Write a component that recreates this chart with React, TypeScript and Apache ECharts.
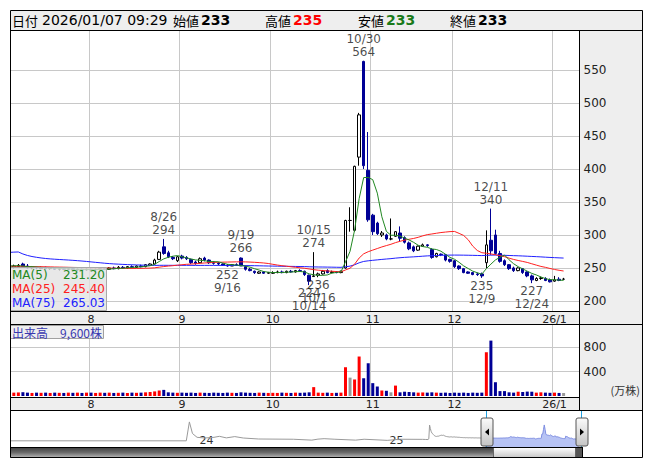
import { useEffect, useRef } from 'react';
import * as echarts from 'echarts';

const FONT = '"DejaVu Sans", "Noto Sans CJK JP", sans-serif';
const JFONT = '"Noto Sans CJK JP", "DejaVu Sans", sans-serif';

// trading days shown in the window
const JUL_2025 = [7, 8, 9, 10, 11, 14, 15, 16, 17, 18, 22, 23, 24, 25, 28, 29, 30, 31];
const AUG_2025 = [1, 4, 5, 6, 7, 8, 12, 13, 14, 15, 18, 19, 20, 21, 22, 25, 26, 27, 28, 29];
const SEP_2025 = [1, 2, 3, 4, 5, 8, 9, 10, 11, 12, 16, 17, 18, 19, 22, 24, 25, 26, 29, 30];
const OCT_2025 = [1, 2, 3, 6, 7, 8, 9, 10, 14, 15, 16, 17, 20, 21, 22, 23, 24, 27, 28, 29, 30, 31];
const NOV_2025 = [4, 5, 6, 7, 10, 11, 12, 13, 14, 17, 18, 19, 20, 21, 25, 26, 27, 28];
const DEC_2025 = [1, 2, 3, 4, 5, 8, 9, 10, 11, 12, 15, 16, 17, 18, 19, 22, 23, 24, 25, 26, 29, 30];
const JAN_2026 = [5, 6, 7];

// x tick labels at month starts
const monthTicks: [string, string][] = [
  ['2025/08/01', '8'], ['2025/09/01', '9'], ['2025/10/01', '10'],
  ['2025/11/04', '11'], ['2025/12/01', '12'], ['2026/01/05', '26/1'],
];

// [open, close, low, high]
const ohlc: number[][] = [
  [256, 251, 250, 258], [251, 253, 249, 255], [252, 254, 251, 256], [256, 252, 251, 258], [253, 250, 249, 256],
  [250, 251, 248, 253], [251, 250, 248, 252], [249, 251, 248, 252], [251, 249, 248, 252], [249, 250, 247, 251],
  [250, 248, 247, 251], [248, 249, 246, 250], [249, 248, 247, 250], [248, 249, 247, 250], [249, 247, 246, 250],
  [247, 248, 246, 249], [248, 247, 246, 249], [247, 248, 246, 249],
  [248, 247, 246, 249], [247, 248, 245, 249], [248, 249, 247, 250], [249, 248, 247, 250], [248, 250, 247, 251],
  [250, 249, 248, 252], [249, 251, 248, 253], [251, 250, 249, 253], [250, 252, 249, 253], [252, 251, 250, 254],
  [251, 253, 250, 254], [253, 252, 251, 255], [252, 255, 251, 256], [254, 256, 253, 257], [256, 262, 255, 264],
  [263, 274, 262, 276], [282, 272, 270, 294], [273, 267, 265, 276], [266, 264, 262, 268], [261, 267, 259, 268],
  [268, 265, 263, 270], [266, 264, 262, 268], [263, 258, 256, 264], [259, 257, 255, 261], [258, 264, 257, 266],
  [265, 262, 260, 267], [262, 258, 256, 263], [259, 257, 255, 260], [257, 256, 254, 259], [256, 254, 253, 257],
  [254, 253, 252, 256], [253, 255, 253, 256], [255, 254, 253, 257], [265, 253, 253, 266], [252, 248, 246, 254],
  [248, 246, 245, 250], [245, 243, 241, 246], [242, 244, 241, 245], [244, 242, 241, 245], [242, 243, 241, 244],
  [242, 243, 241, 245], [243, 244, 242, 246], [244, 243, 242, 246], [243, 245, 242, 246], [245, 244, 243, 247],
  [244, 246, 243, 247], [246, 245, 244, 248], [245, 240, 238, 246], [239, 230, 224, 240], [237, 238, 237, 274],
  [239, 241, 236, 243], [241, 245, 240, 247], [246, 243, 242, 248], [243, 244, 242, 246], [244, 243, 242, 245],
  [243, 245, 242, 246], [250, 322, 249, 323], [322, 322, 305, 342], [307, 404, 305, 405], [418, 482, 405, 485],
  [563, 405, 400, 564], [398, 323, 320, 456],
  [330, 305, 300, 332], [318, 302, 300, 320], [300, 303, 297, 306], [300, 294, 292, 302], [294, 294, 292, 325],
  [298, 305, 297, 306], [303, 295, 290, 313], [296, 289, 287, 298], [288, 279, 277, 290], [282, 276, 274, 284],
  [277, 283, 276, 284], [283, 285, 282, 287], [285, 284, 282, 286], [278, 266, 264, 280], [267, 272, 266, 273],
  [271, 270, 268, 272], [270, 262, 260, 271], [263, 260, 258, 264],
  [261, 252, 250, 262], [253, 249, 247, 254], [249, 243, 242, 250], [244, 242, 241, 245], [243, 240, 239, 244],
  [241, 240, 238, 243], [241, 238, 235, 243], [258, 285, 250, 307], [292, 276, 270, 340], [300, 272, 270, 308],
  [272, 260, 258, 276], [261, 255, 253, 263], [255, 249, 247, 256], [250, 246, 244, 252], [246, 250, 245, 251],
  [249, 243, 241, 250], [244, 238, 236, 245], [238, 232, 227, 240], [231, 234, 230, 236], [234, 235, 232, 237],
  [234, 231, 230, 236], [232, 229, 228, 234],
  [230, 232, 229, 238], [233, 231, 230, 236], [233, 233, 233, 235],
];

// volume, 万株
const volumes = [
  60, 55, 58, 62, 55, 50, 55, 52, 55, 50, 55, 52, 50, 55, 52, 55, 50, 55,
  55, 50, 55, 52, 55, 50, 52, 55, 50, 55, 52, 55, 60, 65, 75, 90, 100, 60, 55, 52,
  55, 52, 55, 50, 55, 52, 50, 55, 52, 50, 55, 52, 50, 60, 55, 52, 50, 55, 52, 50,
  52, 50, 55, 52, 50, 55, 52, 55, 60, 145, 55, 52, 55, 50, 52, 55, 470, 300, 270, 645, 290, 535,
  210, 155, 90, 85, 60, 170, 60, 70, 65, 60, 55, 58, 55, 60, 55, 52, 55, 50,
  55, 52, 55, 50, 55, 52, 55, 715, 905, 225, 80, 80, 60, 55, 70, 65, 72, 70, 55, 60, 55, 52,
  55, 50, 0.96,
];

// closes before the window (for the moving averages and the overview)
const priorCloses = [
  222, 235, 480, 420, 370, 340, 325, 310, 295, 285,
  280, 278, 282, 280, 285, 290, 295, 298, 300, 296, 300,
  292, 285, 280, 276, 274, 272, 270, 268, 270, 272, 268, 266, 268, 270, 267, 265, 266, 264, 262, 263,
  262, 260, 258, 259, 257, 256, 257, 255, 254, 256, 255, 254, 253, 255, 254, 253, 252, 254, 253, 252,
  251, 253, 252, 251, 250, 252, 251, 250, 251, 252, 253, 254, 255,
];

// overview history (trading-day offset from window start, price)
const overviewHistory: number[][] = [
  [-617, 200], [-388, 200], [-384, 536], [-380, 330], [-374, 262], [-364, 250], [-352, 262], [-345, 280],
  [-336, 252], [-325, 275], [-314, 250], [-294, 232], [-249, 228], [-225, 212], [-217, 230], [-209, 238],
  [-195, 228], [-168, 212], [-157, 228], [-127, 208], [-110, 228], [-81, 226], [-77, 224],
];
const overviewYears: [number, string][] = [[-371, '24'], [-124, '25']];

const highMarks = ['2025/08/26', '2025/09/19', '2025/10/15', '2025/10/30', '2025/12/11'];
const lowMarks = ['2025/09/16', '2025/10/14', '2025/10/16', '2025/12/09', '2025/12/24'];

const priceTicks = [200, 250, 300, 350, 400, 450, 500, 550];
const volumeTicks = [400, 800];
const stamp = '2026/01/07 09:29';

const pad = (n: number) => String(n).padStart(2, '0');
const dates: string[] = [];
([
  [2025, 7, JUL_2025], [2025, 8, AUG_2025], [2025, 9, SEP_2025], [2025, 10, OCT_2025],
  [2025, 11, NOV_2025], [2025, 12, DEC_2025], [2026, 1, JAN_2026],
] as [number, number, number[]][]).forEach(([y, m, days]) => days.forEach((d) => dates.push(`${y}/${pad(m)}/${pad(d)}`)));
const categories = [...dates, '_b1', '_b2', '_b3'];
const monthLabel: Record<string, string> = {};
monthTicks.forEach(([d, l]) => (monthLabel[d] = l));
const isMonth = (_i: number, v: string) => monthLabel[v] !== undefined;
const md = (s: string) => `${+s.slice(5, 7)}/${+s.slice(8, 10)}`;

const closes = ohlc.map((d) => d[1]);
const allCloses = [...priorCloses, ...closes];
const maRaw = (n: number) =>
  closes.map((_, k) => {
    const end = priorCloses.length + k;
    let s = 0;
    for (let i = end - n + 1; i <= end; i++) s += allCloses[i];
    return s / n;
  });
const ma5 = maRaw(5), ma25 = maRaw(25), ma75 = maRaw(75);
const last = ohlc[ohlc.length - 1];

const C_UP_VOL = '#ff0000', C_DN = '#000096', C_EQ = '#999999';
const C_MA5 = '#228822', C_MA25 = '#ff2020', C_MA75 = '#2020ff';

function txt(text: string, x: number, y: number, o: any = {}) {
  return {
    type: 'text', z: 100, x, y,
    style: {
      text, fill: o.fill || '#000', fontSize: o.size || 12, fontFamily: o.family || FONT,
      fontWeight: o.weight || 'normal', textAlign: o.align || 'left', textVerticalAlign: 'middle',
    },
  };
}
const line = (x1: number, y1: number, x2: number, y2: number, stroke = '#000', z = 100) => ({
  type: 'line', z, shape: { x1, y1, x2, y2 }, style: { stroke, lineWidth: 1 },
});
const grad = (stops: [number, string][]) => ({
  type: 'linear', x: 0, y: 0, x2: 0, y2: 1, colorStops: stops.map(([offset, color]) => ({ offset, color })),
});

function buildOption() {
  const volData = volumes.map((v, i) => {
    const [o, c] = ohlc[i];
    return { value: v, itemStyle: { color: c > o ? C_UP_VOL : c < o ? C_DN : C_EQ } };
  });
  const idxOf = (d: string) => dates.indexOf(d);
  const highData = highMarks.map((d) => [idxOf(d), ohlc[idxOf(d)][3]]);
  const lowData = lowMarks.map((d) => [idxOf(d), ohlc[idxOf(d)][2]]);
  const ovGray = [...overviewHistory, ...priorCloses.map((v, i) => [i - priorCloses.length, v]), [0, closes[0]]];
  const ovWin = closes.map((v, k) => [k, v]);
  const yearMap: Record<string, string> = {};
  overviewYears.forEach(([v, l]) => (yearMap[String(v)] = l));
  const volText = Math.round(volumes[volumes.length - 1] * 10000).toLocaleString('en-US');

  const catAxis = (gridIndex: number) => ({
    type: 'category', gridIndex, data: categories, boundaryGap: true,
    axisLine: { show: false }, axisTick: { show: false },
    axisLabel: {
      interval: isMonth, formatter: (v: string) => monthLabel[v] || '',
      fontSize: 11, color: '#222', margin: 3, fontFamily: FONT,
    },
    splitLine: { show: true, interval: isMonth, lineStyle: { color: '#c8c8c8', width: 1 } },
  });

  const graphics: any[] = [
    { type: 'rect', z: -10, shape: { x: 10, y: 10, width: 633, height: 20 }, style: { fill: '#eeeeee' } },
    { type: 'rect', z: -10, shape: { x: 580, y: 30, width: 63, height: 381 }, style: { fill: '#eeeeee' } },
    { type: 'rect', z: -10, shape: { x: 10, y: 311, width: 570, height: 14 }, style: { fill: '#eeeeee' } },
    { type: 'rect', z: -10, shape: { x: 10, y: 397, width: 570, height: 14 }, style: { fill: '#eeeeee' } },
    { type: 'rect', z: 50, shape: { x: 0, y: 0, width: 10, height: 470 }, style: { fill: '#ffffff' } },
    // header
    txt('日付', 12, 20, { size: 13, family: JFONT }),
    txt(stamp, 42, 20, { size: 14 }),
    txt('始値', 173, 20, { size: 13, family: JFONT }),
    txt(String(last[0]), 201, 20, { size: 14, weight: 'bold' }),
    txt('高値', 265, 20, { size: 13, family: JFONT }),
    txt(String(last[3]), 293, 20, { size: 14, weight: 'bold', fill: '#ff0000' }),
    txt('安値', 358, 20, { size: 13, family: JFONT }),
    txt(String(last[2]), 386, 20, { size: 14, weight: 'bold', fill: '#1a7a1a' }),
    txt('終値', 450, 20, { size: 13, family: JFONT }),
    txt(String(last[1]), 478, 20, { size: 14, weight: 'bold' }),
    // MA legend
    { type: 'rect', z: 90, shape: { x: 10.5, y: 267.5, width: 96, height: 43 }, style: { fill: 'rgba(226,226,226,0.8)', stroke: '#a8a8a8', lineWidth: 1 } },
    txt('MA(5)', 12, 275, { fill: C_MA5 }),
    txt(ma5[ma5.length - 1].toFixed(2), 105, 275, { fill: C_MA5, align: 'right' }),
    txt('MA(25)', 12, 289, { fill: C_MA25 }),
    txt(ma25[ma25.length - 1].toFixed(2), 105, 289, { fill: C_MA25, align: 'right' }),
    txt('MA(75)', 12, 303, { fill: C_MA75 }),
    txt(ma75[ma75.length - 1].toFixed(2), 105, 303, { fill: C_MA75, align: 'right' }),
    // volume legend
    { type: 'rect', z: 90, shape: { x: 10.5, y: 325.5, width: 93, height: 13 }, style: { fill: 'rgba(236,236,236,0.9)', stroke: '#a0a0a0', lineWidth: 1 } },
    txt(`出来高　${volText}株`, 12, 332, { size: 12, family: JFONT, fill: '#3838b0' }),
    txt('(万株)', 640, 390, { size: 11, family: JFONT, fill: '#333', align: 'right' }),
    // overview handles and range
    line(486.5, 411, 486.5, 447, '#20a0e0', 95),
    line(581.5, 411, 581.5, 447, '#20a0e0', 95),
    { type: 'rect', z: 96, shape: { x: 481, y: 418, width: 12, height: 28, r: 2 }, style: { fill: grad([[0, '#fbfbfb'], [1, '#c4c4c4']]), stroke: '#555', lineWidth: 1 } },
    { type: 'polygon', z: 97, shape: { points: [[485, 432], [489, 428.5], [489, 435.5]] }, style: { fill: '#000' } },
    { type: 'rect', z: 96, shape: { x: 576, y: 418, width: 12, height: 28, r: 2 }, style: { fill: grad([[0, '#fbfbfb'], [1, '#c4c4c4']]), stroke: '#555', lineWidth: 1 } },
    { type: 'polygon', z: 97, shape: { points: [[584, 432], [580, 428.5], [580, 435.5]] }, style: { fill: '#000' } },
    // scrollbar
    { type: 'rect', z: 90, shape: { x: 10, y: 447, width: 572, height: 11 }, style: { fill: grad([[0, '#3a3a3a'], [0.5, '#6a6a6a'], [1, '#bdbdbd']]) } },
    { type: 'rect', z: 91, shape: { x: 493.5, y: 447.5, width: 82, height: 10 }, style: { fill: grad([[0, '#ffffff'], [1, '#c8c8c8']]), stroke: '#666', lineWidth: 1 } },
    { type: 'rect', z: 91, shape: { x: 576, y: 447, width: 6, height: 11 }, style: { fill: '#555' } },
    // frame lines
    { type: 'rect', z: 100, shape: { x: 10.5, y: 10.5, width: 632, height: 447 }, style: { fill: 'none', stroke: '#000', lineWidth: 1 } },
    line(10, 30.5, 643, 30.5),
    line(579.5, 30, 579.5, 411),
    line(10, 311.5, 580, 311.5),
    line(10, 324.5, 643, 324.5),
    line(10, 397.5, 580, 397.5),
    line(10, 410.5, 643, 410.5),
    line(10, 447.5, 582, 447.5),
    line(582.5, 447, 582.5, 458),
  ];

  const labelStyle = { fontSize: 12, color: '#1a1a1a', fontFamily: FONT, lineHeight: 13 };

  return {
    animation: false,
    backgroundColor: '#ffffff',
    textStyle: { fontFamily: FONT },
    grid: [
      { left: 7, top: 30, width: 572.5, height: 281 },
      { left: 7, top: 325, width: 572.5, height: 71 },
      { left: 10, top: 411, width: 572, height: 36 },
    ],
    xAxis: [
      catAxis(0),
      catAxis(1),
      {
        type: 'value', gridIndex: 2, min: -617, max: 126,
        axisLine: { show: false }, axisTick: { show: false }, splitLine: { show: false },
        axisLabel: {
          customValues: overviewYears.map((d) => d[0]),
          formatter: (v: number) => yearMap[String(v)] || '',
          inside: true, align: 'left', margin: 1, fontSize: 11, color: '#333', fontFamily: FONT,
        },
      },
    ],
    yAxis: [
      {
        type: 'value', gridIndex: 0, position: 'right', min: 184.8, max: 610.6,
        axisLine: { show: false }, axisTick: { show: false, customValues: priceTicks },
        axisLabel: { customValues: priceTicks, margin: 4, fontSize: 12, color: '#222', fontFamily: FONT },
        splitLine: { show: true, lineStyle: { color: '#c8c8c8' } },
      },
      {
        type: 'value', gridIndex: 1, position: 'right', min: 0, max: 1160,
        axisLine: { show: false }, axisTick: { show: false, customValues: volumeTicks },
        axisLabel: { customValues: volumeTicks, margin: 4, fontSize: 12, color: '#222', fontFamily: FONT },
        splitLine: { show: true, lineStyle: { color: '#c8c8c8' } },
      },
      { type: 'value', gridIndex: 2, min: 90, max: 730, show: false, splitLine: { show: false } },
    ],
    series: [
      {
        type: 'candlestick', xAxisIndex: 0, yAxisIndex: 0, data: ohlc, barWidth: 3,
        itemStyle: { color: '#ffffff', color0: C_DN, borderColor: '#000000', borderColor0: C_DN, borderColorDoji: '#000000', borderWidth: 1 },
      },
      { type: 'line', xAxisIndex: 0, yAxisIndex: 0, data: ma75, showSymbol: false, lineStyle: { color: C_MA75, width: 1 }, itemStyle: { color: C_MA75 } },
      { type: 'line', xAxisIndex: 0, yAxisIndex: 0, data: ma25, showSymbol: false, lineStyle: { color: C_MA25, width: 1 }, itemStyle: { color: C_MA25 } },
      { type: 'line', xAxisIndex: 0, yAxisIndex: 0, data: ma5, showSymbol: false, lineStyle: { color: C_MA5, width: 1 }, itemStyle: { color: C_MA5 } },
      {
        type: 'scatter', xAxisIndex: 0, yAxisIndex: 0, data: highData, symbolSize: 1, clip: false,
        itemStyle: { color: 'rgba(0,0,0,0)' },
        label: { show: true, position: 'top', distance: 2, formatter: (p: any) => `${md(dates[p.value[0]])}\n${p.value[1]}`, ...labelStyle },
      },
      {
        type: 'scatter', xAxisIndex: 0, yAxisIndex: 0, data: lowData, symbolSize: 1, clip: false,
        itemStyle: { color: 'rgba(0,0,0,0)' },
        label: { show: true, position: 'bottom', distance: 1, formatter: (p: any) => `${p.value[1]}\n${md(dates[p.value[0]])}`, ...labelStyle },
      },
      { type: 'bar', xAxisIndex: 1, yAxisIndex: 1, data: volData, barWidth: 3, barMinHeight: 3 },
      {
        type: 'line', xAxisIndex: 2, yAxisIndex: 2, data: ovGray, showSymbol: false,
        lineStyle: { color: '#9a9a9a', width: 1 },
      },
      {
        type: 'line', xAxisIndex: 2, yAxisIndex: 2, data: ovWin, showSymbol: false,
        lineStyle: { color: '#7f8ee0', width: 1 }, areaStyle: { color: '#b7c3f4', opacity: 1, origin: 'start' },
      },
    ],
    graphic: graphics,
  };
}

export default function App() {
  const ref = useRef<HTMLDivElement>(null);
  useEffect(() => {
    if (!ref.current) return;
    const chart = echarts.init(ref.current, null, { renderer: 'svg', width: 653, height: 470 });
    chart.setOption(buildOption() as any);
    return () => chart.dispose();
  }, []);
  return <div ref={ref} style={{ position: 'absolute', left: 0, top: 0, width: 653, height: 470 }} />;
}
